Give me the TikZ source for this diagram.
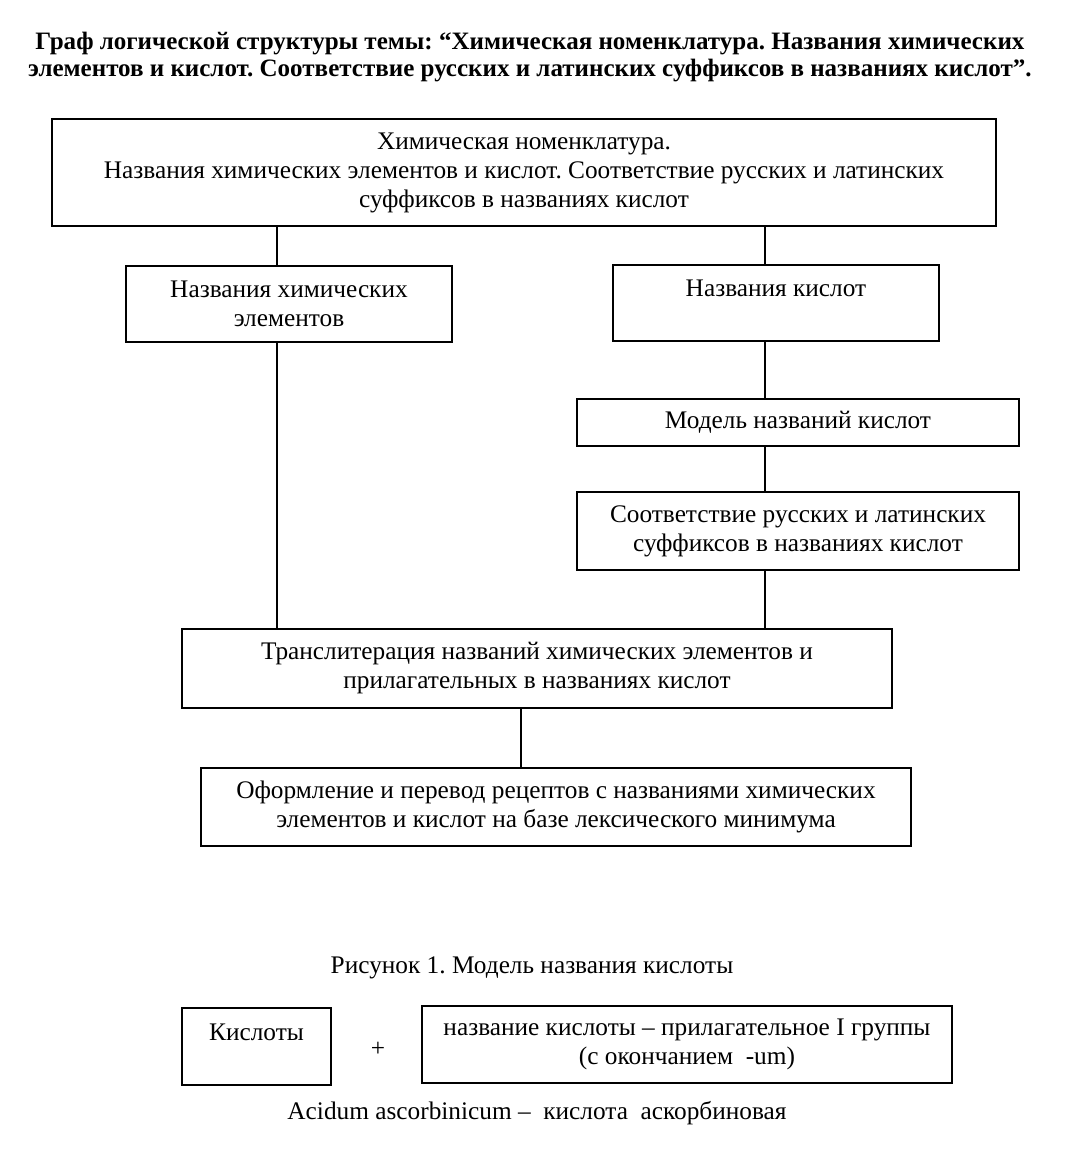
\documentclass[tikz,border=0pt]{standalone}
\usepackage{fontspec}
\setmainfont{Liberation Serif}
\usepackage{tikz}
\usetikzlibrary{positioning, calc}
\usepackage{xcolor}
\frenchspacing
\tikzstyle{tbox} = [%
  rectangle,
  draw=black,
  line width=1.4pt,
  align=center,
  fill=none,
  text centered,
  inner sep=0pt
]

\begin{document}
\begin{tikzpicture}[%
  x=0.025cm, y=-0.025cm,
  every node/.style={%
    font=\fontsize{18}{20.6}\selectfont,
    text=black,
    align=center
  },
  link/.style={draw=black,line width=1pt}
]
  \useasboundingbox (0,0) rectangle (1086,1167);

  % Title
  \node[font=\fontsize{17.8}{19.2}\selectfont\bfseries] (title) at (530,57.5)
    {Граф логической структуры темы: “Химическая номенклатура. Названия химических\\
     элементов и кислот. Соответствие русских и латинских суффиксов в названиях кислот”.};

  % Nodes
  \node[tbox,minimum width=23.6cm,minimum height=2.675cm] (top) at (524,172.5)
    {Химическая номенклатура.\\
     Названия химических элементов и кислот. Соответствие русских и латинских\\
     суффиксов в названиях кислот};
  \node[tbox,minimum width=8.15cm,minimum height=1.9cm] (elem) at (289,304)
    {Названия химических\\элементов};
  \node[tbox,minimum width=8.15cm,minimum height=1.9cm] (acids) at (776,303)
    {Названия кислот\\\mbox{}};
  \node[tbox,minimum width=11.05cm,minimum height=1.175cm] (model) at (798,422.5)
    {Модель названий кислот};
  \node[tbox,minimum width=11.05cm,minimum height=1.95cm] (suff) at (798,531)
    {Соответствие русских и латинских\\суффиксов в названиях кислот};
  \node[tbox,minimum width=17.75cm,minimum height=1.975cm] (translit) at (537,668.5)
    {Транслитерация названий химических элементов и\\прилагательных в названиях кислот};
  \node[tbox,minimum width=17.75cm,minimum height=1.95cm] (design) at (556,807)
    {Оформление и перевод рецептов с названиями химических\\элементов и кислот на базе лексического минимума};

  % Figure 1
  \node (caption) at (532,968) {Рисунок 1. Модель названия кислоты};
  \node[tbox,minimum width=3.725cm,minimum height=1.925cm] (word) at (256.5,1046.5)
    {Кислоты\\\mbox{}};
  \node (plus) at (378,1049) {+};
  \node[tbox,minimum width=13.25cm,minimum height=1.925cm] (adj) at (687,1044.5)
    {название кислоты – прилагательное I группы\\(с окончанием~~-um)};
  \node (sample) at (537,1113) {Acidum ascorbinicum –~~кислота~~аскорбиновая};

  % Edges
  \coordinate (lx) at (277,0);
  \coordinate (rx) at (765,0);
  \coordinate (mx) at (521,0);
  \draw[link] (top.south -| lx) -- (elem.north -| lx);
  \draw[link] (top.south -| rx) -- (acids.north -| rx);
  \draw[link] (elem.south -| lx) -- (translit.north -| lx);
  \draw[link] (acids.south -| rx) -- (model.north -| rx);
  \draw[link] (model.south -| rx) -- (suff.north -| rx);
  \draw[link] (suff.south -| rx) -- (translit.north -| rx);
  \draw[link] (translit.south -| mx) -- (design.north -| mx);

\end{tikzpicture}
\end{document}
